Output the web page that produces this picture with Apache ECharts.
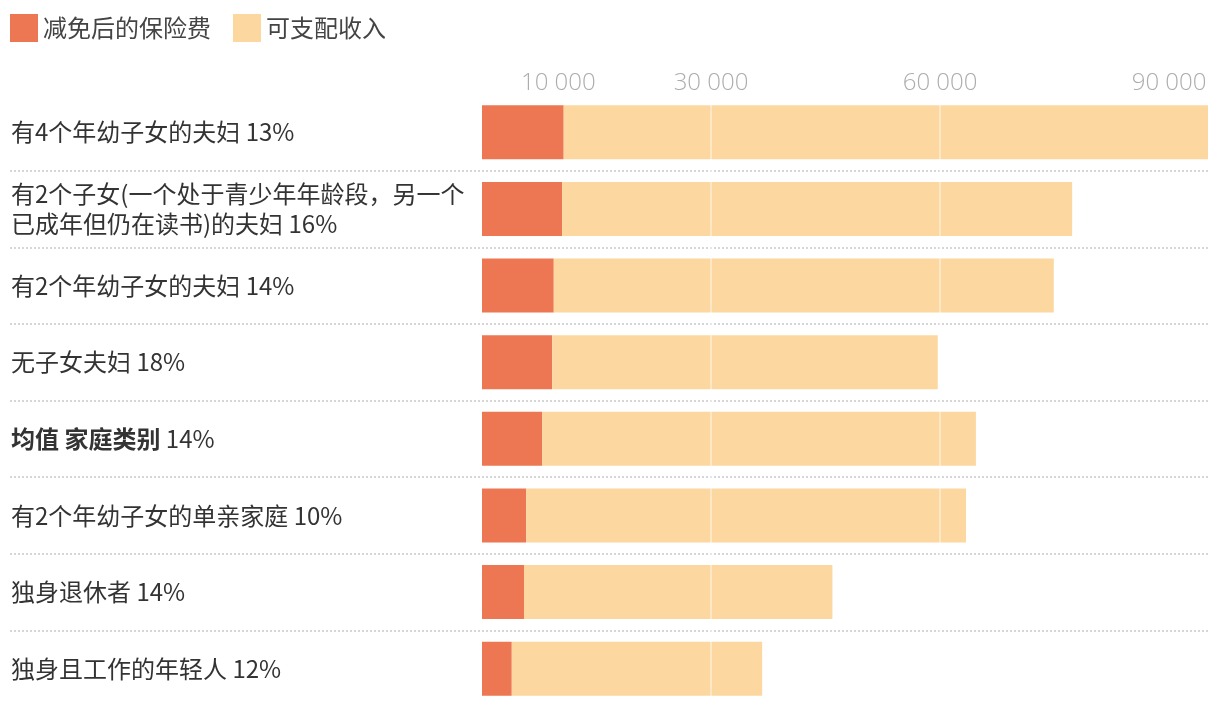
<!DOCTYPE html>
<html>
<head>
<meta charset="utf-8">
<script src="https://cdn.jsdelivr.net/npm/echarts@6/dist/echarts.min.js"></script>
<style>
html,body{margin:0;padding:0;background:#fff;}
#chart{width:1220px;height:708px;}
</style>
</head>
<body>
<div id="chart"></div>
<script>
// ---- data ----
var categories = [
  '有4个年幼子女的夫妇',
  '有2个子女(一个处于青少年年龄段，另一个\n已成年但仍在读书)的夫妇',
  '有2个年幼子女的夫妇',
  '无子女夫妇',
  '均值 家庭类别',
  '有2个年幼子女的单亲家庭',
  '独身退休者',
  '独身且工作的年轻人'
];
var shares = ['13%', '16%', '14%', '18%', '14%', '10%', '14%', '12%'];
var boldCategory = '均值 家庭类别';
var premium = [10700, 10500, 9400, 9200, 7900, 5800, 5500, 3900];
var income  = [84400, 66800, 65500, 50500, 56800, 57600, 40400, 32800];
var tickValues = [10000, 30000, 60000, 90000];
var seriesNames = ['减免后的保险费', '可支配收入'];

// ---- chart ----
var FONT = '"Noto Sans CJK SC", "Noto Sans", sans-serif';
var totalMax = Math.max.apply(null, premium.map(function (p, i) { return p + income[i]; }));
var chart = echarts.init(document.getElementById('chart'), null, {renderer: 'canvas'});
var GRID_TOP = 94, GRID_BOTTOM = 1;
var sepStyle = {color: '#d6d6d6', width: 2, type: [2, 2]};

chart.setOption({
  animation: false,
  backgroundColor: '#fff',
  color: ['#EC7752', '#FCD8A0'],
  legend: {
    left: 10, top: 14, padding: 0,
    itemWidth: 28, itemHeight: 28, itemGap: 22,
    icon: 'rect',
    textStyle: {fontFamily: FONT, fontSize: 24, color: '#444'},
    data: seriesNames
  },
  grid: [
    {left: 482, right: 12, top: GRID_TOP, bottom: GRID_BOTTOM},
    {left: 10, width: 472, top: GRID_TOP, bottom: GRID_BOTTOM}
  ],
  xAxis: [{
    type: 'value', gridIndex: 0, position: 'top',
    min: 0, max: totalMax, z: 5,
    axisLine: {show: false},
    axisTick: {show: false, customValues: tickValues},
    axisLabel: {
      customValues: tickValues, margin: -1,
      fontFamily: '"Open Sans", sans-serif', fontWeight: 300, fontSize: 24, color: '#adadad',
      formatter: function (v) { return String(v).replace(/\B(?=(\d{3})+(?!\d))/g, ' '); }
    },
    splitLine: {show: true, showMinLine: false, showMaxLine: false,
      lineStyle: {color: 'rgba(255,255,255,0.4)', width: 2}}
  }, {
    type: 'value', gridIndex: 1, show: false, min: 0, max: 1
  }],
  yAxis: [{
    type: 'category', gridIndex: 0, inverse: true, data: categories,
    axisLine: {show: false}, axisTick: {show: false},
    axisLabel: {
      align: 'left', margin: 471,
      fontFamily: FONT, fontSize: 24, color: '#333', lineHeight: 30,
      formatter: function (v, i) {
        if (v === boldCategory) return '{b|' + v + '} ' + shares[i];
        return v + ' ' + shares[i];
      },
      rich: {b: {fontFamily: FONT, fontSize: 24, fontWeight: 'bold', color: '#333'}}
    },
    splitLine: {show: true, showMinLine: false, showMaxLine: false, lineStyle: sepStyle}
  }, {
    type: 'category', gridIndex: 1, inverse: true, data: categories,
    axisLine: {show: false}, axisTick: {show: false}, axisLabel: {show: false},
    splitLine: {show: true, showMinLine: false, showMaxLine: false, lineStyle: sepStyle}
  }],
  series: [{
    name: seriesNames[0], type: 'bar', stack: 'total', barWidth: 54,
    xAxisIndex: 0, yAxisIndex: 0, data: premium
  }, {
    name: seriesNames[1], type: 'bar', stack: 'total', barWidth: 54,
    xAxisIndex: 0, yAxisIndex: 0, data: income
  }]
});
</script>
</body>
</html>
